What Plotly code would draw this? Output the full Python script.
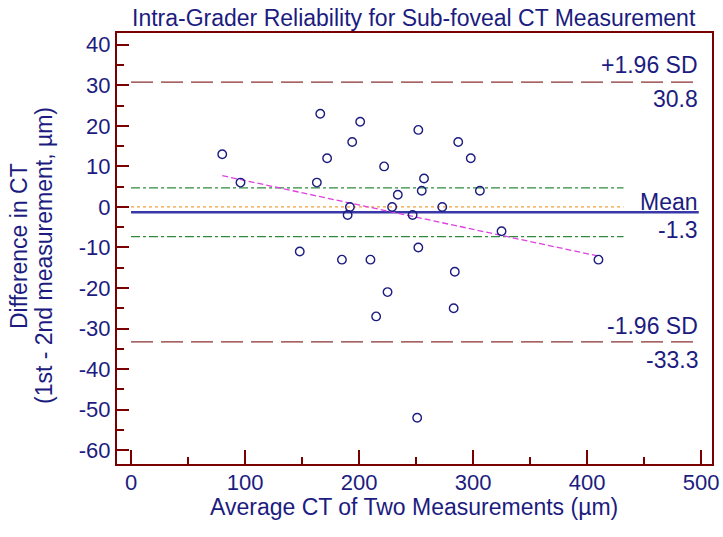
import numpy as np
import plotly.graph_objects as go

# ---- data ----
avg_ct = [80, 96, 166, 172, 163, 148, 185, 190, 192, 194, 201, 210, 215, 225, 222,
          234, 229, 247, 252, 252, 255, 257, 251, 273, 284, 283, 287, 298, 306, 325, 410]
diff_ct = [13, 6, 23, 12, 6, -11, -13, -2, 0, 16, 21, -13, -27, -21, 10,
           3, 0, -2, 19, -10, 4, 7, -52, 0, -16, -25, 16, 12, 4, -6, -13]

mean_diff = -1.3
upper_loa = 30.8
lower_loa = -33.3
ci_upper = 4.7
ci_lower = -7.3

x_ticks = [0, 100, 200, 300, 400, 500]
y_ticks = [40, 30, 20, 10, 0, -10, -20, -30, -40, -50, -60]

title_text = "Intra-Grader Reliability for Sub-foveal CT Measurement"
x_title = "Average CT of Two Measurements (µm)"
y_title_1 = "Difference in CT"
y_title_2 = "(1st - 2nd measurement, µm)"

NAVY = "#1c1c80"
FRAME = "#7a0000"
FONT = "Liberation Sans, Arial, sans-serif"
FS = 23
TFS = 22
W, H = 723, 537
ML, MR, MT, MB = 117, 11, 33, 73

fig = go.Figure()

# reference lines
def hline(y, x0, x1, color, dash, width):
    fig.add_trace(go.Scatter(x=[x0, x1], y=[y, y], mode="lines",
                             line=dict(color=color, dash=dash, width=width),
                             hoverinfo="skip", showlegend=False))

hline(0, 0, 432, "#f0a040", "dot", 1.3)
hline(ci_upper, 0, 432, "#2e8b3e", "dashdot", 1.3)
hline(ci_lower, 0, 432, "#2e8b3e", "dashdot", 1.3)
hline(upper_loa, 0, 496, "#8a3030", "22px,8px", 1.3)
hline(lower_loa, 0, 496, "#8a3030", "22px,8px", 1.3)
hline(mean_diff, 0, 498, "#3838a8", "solid", 2.5)

# regression line
b1, b0 = np.polyfit(avg_ct, diff_ct, 1)
xr = np.array([min(avg_ct), max(avg_ct)])
fig.add_trace(go.Scatter(x=xr, y=b0 + b1 * xr, mode="lines",
                         line=dict(color="#e040e0", dash="6px,3px", width=1.3),
                         hoverinfo="skip", showlegend=False))

# points
fig.add_trace(go.Scatter(x=avg_ct, y=diff_ct, mode="markers",
                         marker=dict(symbol="circle-open", size=8.5, color=NAVY,
                                     line=dict(width=1.4, color=NAVY)),
                         showlegend=False))

# right-side labels
lab_x = 499
labels = [("+1.96 SD", upper_loa, 17), (f"{upper_loa}", upper_loa, -17),
          ("Mean", mean_diff, 10), (f"{mean_diff}", mean_diff, -18),
          ("-1.96 SD", lower_loa, 16), (f"{lower_loa}", lower_loa, -18)]
for txt, y, sh in labels:
    fig.add_annotation(x=lab_x, y=y, text=txt, showarrow=False, xanchor="right",
                       yanchor="middle", yshift=sh, xref="x", yref="y",
                       font=dict(family=FONT, size=FS, color=NAVY))

# titles as paper annotations (positions given in window pixels)
pw = W - ML - MR
ph = H - MT - MB
def px2paper_x(px):
    return (px - ML) / pw
def px2paper_y(py):
    return 1 - (py - MT) / ph

fig.add_annotation(x=px2paper_x(414), y=px2paper_y(18), xref="paper", yref="paper",
                   text=title_text, showarrow=False, xanchor="center", yanchor="middle",
                   font=dict(family=FONT, size=FS, color=NAVY))
fig.add_annotation(x=px2paper_x(414), y=px2paper_y(507), xref="paper", yref="paper",
                   text=x_title, showarrow=False, xanchor="center", yanchor="middle",
                   font=dict(family=FONT, size=FS, color=NAVY))
fig.add_annotation(x=px2paper_x(19), y=px2paper_y(246), xref="paper", yref="paper",
                   text=y_title_1, showarrow=False, xanchor="center", yanchor="middle",
                   textangle=-90, font=dict(family=FONT, size=FS, color=NAVY))
fig.add_annotation(x=px2paper_x(44), y=px2paper_y(256), xref="paper", yref="paper",
                   text=y_title_2, showarrow=False, xanchor="center", yanchor="middle",
                   textangle=-90, font=dict(family=FONT, size=FS, color=NAVY))

fig.update_layout(
    width=W, height=H,
    margin=dict(l=ML, r=MR, t=MT, b=MB),
    paper_bgcolor="white", plot_bgcolor="white",
    font=dict(family=FONT, size=FS, color=NAVY),
)
fig.update_xaxes(range=[-12.3, 509.6], tickvals=x_ticks,
                 ticktext=[str(v) for v in x_ticks], ticks="inside", ticklen=14,
                 tickwidth=2, tickcolor=FRAME, showline=True, linecolor=FRAME,
                 linewidth=2, mirror=True, showgrid=False, zeroline=False,
                 automargin=False, ticklabelstandoff=-2,
                 minor=dict(dtick=50, tick0=0, ticks="inside", ticklen=7, tickwidth=2,
                            tickcolor=FRAME, showgrid=False),
                 tickfont=dict(family=FONT, size=TFS, color=NAVY))
fig.update_yaxes(range=[-63.4, 42.9], tickvals=y_ticks,
                 ticktext=[str(v) for v in y_ticks], ticks="inside", ticklen=12,
                 tickwidth=2, tickcolor=FRAME, showline=True, linecolor=FRAME,
                 linewidth=2, mirror=True, showgrid=False, zeroline=False,
                 automargin=False,
                 minor=dict(dtick=5, tick0=0, ticks="inside", ticklen=7, tickwidth=2,
                            tickcolor=FRAME, showgrid=False),
                 tickfont=dict(family=FONT, size=TFS, color=NAVY))

fig.write_html("out.html", config={"displayModeBar": False},
               post_script="document.body.style.margin='0';document.body.style.overflow='hidden';")
